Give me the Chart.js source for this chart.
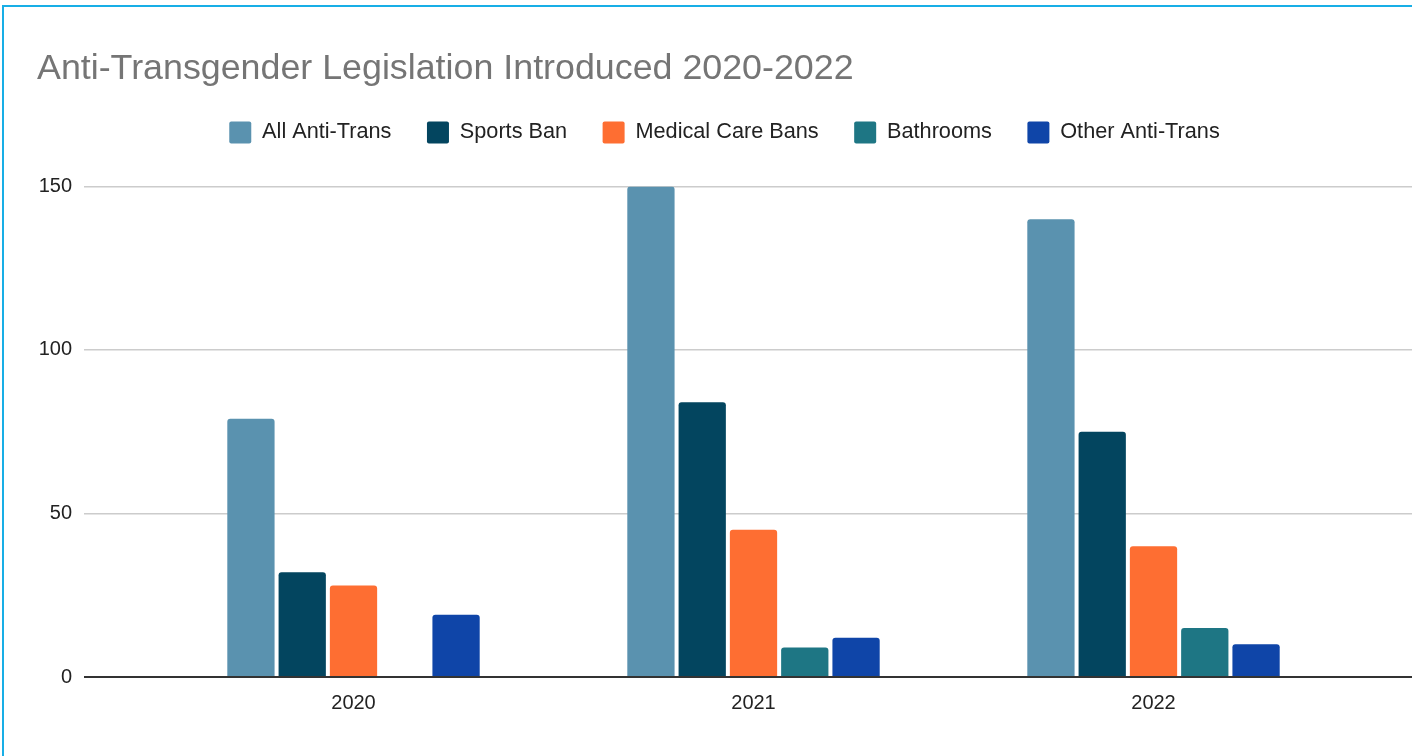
<!DOCTYPE html>
<html>
<head>
<meta charset="utf-8">
<script src="https://cdn.jsdelivr.net/npm/chart.js@4/dist/chart.umd.min.js"></script>
<style>
  html, body { margin: 0; padding: 0; background: #fff; overflow: hidden; }
  #wrap { position: relative; width: 1412px; height: 756px; }
  #frame { position: absolute; left: 2px; top: 5px; right: -10px; bottom: -10px; border-left: 2px solid #18aee6; border-top: 2px solid #18aee6; pointer-events: none; }
</style>
</head>
<body>
<div id="wrap">
  <canvas id="legislationChart"></canvas>
  <div id="frame"></div>
</div>
<script>
const years = [2020, 2021, 2022];
const allAntiTrans = [79, 150, 140];
const sportsBan = [32, 84, 75];
const medicalCareBans = [28, 45, 40];
const bathrooms = [0, 9, 15];
const otherAntiTrans = [19, 12, 10];
const yTicks = [0, 50, 100, 150];

const FONT = "'Liberation Sans', Arial, sans-serif";

Chart.defaults.font.family = FONT;
Chart.defaults.color = '#222222';
Chart.defaults.animation = false;

// legend sits well above the plot in the original, Chart.js only leaves 10px
const legendGap = {
  id: 'legendGap',
  beforeInit(chart) {
    const fit = chart.legend.fit;
    chart.legend.fit = function () { fit.call(this); this.height += 33; };
  }
};

const bar = (label, data, color) => ({
  label, data, backgroundColor: color, borderWidth: 0, borderRadius: 3,
  barPercentage: 0.922, categoryPercentage: 0.641
});

new Chart(document.getElementById('legislationChart'), {
  type: 'bar',
  data: {
    labels: years,
    datasets: [
      bar('All Anti-Trans', allAntiTrans, '#5a92af'),
      bar('Sports Ban', sportsBan, '#03455f'),
      bar('Medical Care Bans', medicalCareBans, '#fe6e32'),
      bar('Bathrooms', bathrooms, '#1e7684'),
      bar('Other Anti-Trans', otherAntiTrans, '#0f45a8')
    ]
  },
  options: {
    responsive: true, maintainAspectRatio: false,
    layout: { padding: { left: 37, right: 0, top: 0, bottom: 27 } },
    plugins: {
      title: {
        display: true, text: 'Anti-Transgender Legislation Introduced 2020-2022',
        align: 'start', color: '#757575',
        font: { size: 35.8, weight: 'normal', lineHeight: 1.2 },
        padding: { top: 48, bottom: -5 }
      },
      legend: {
        display: true, position: 'top', align: 'center',
        labels: { boxWidth: 22, boxHeight: 22, padding: 35.5, color: '#222222', font: { size: 21.7 }, useBorderRadius: true, borderRadius: 2 }
      },
      tooltip: { enabled: false }
    },
    scales: {
      x: {
        type: 'linear', offset: false,
        min: 2019.32625, max: 2022.64625,
        afterBuildTicks: axis => { axis.ticks = years.map(v => ({ value: v })); },
        grid: { display: false, drawTicks: false },
        border: { display: false },
        ticks: { padding: 14, font: { size: 20 }, color: '#222222', callback: v => String(v) }
      },
      y: {
        min: 0, max: 150,
        afterBuildTicks: axis => { axis.ticks = yTicks.map(v => ({ value: v })); },
        afterFit: axis => { axis.width = 47; },
        grid: {
          drawTicks: false,
          color: c => c.tick.value === 0 ? '#333333' : '#cccccc',
          lineWidth: c => c.tick.value === 0 ? 2 : 1.5
        },
        border: { display: false },
        ticks: { padding: 12, font: { size: 20 }, color: '#222222' }
      }
    }
  },
  plugins: [legendGap]
});
</script>
</body>
</html>
